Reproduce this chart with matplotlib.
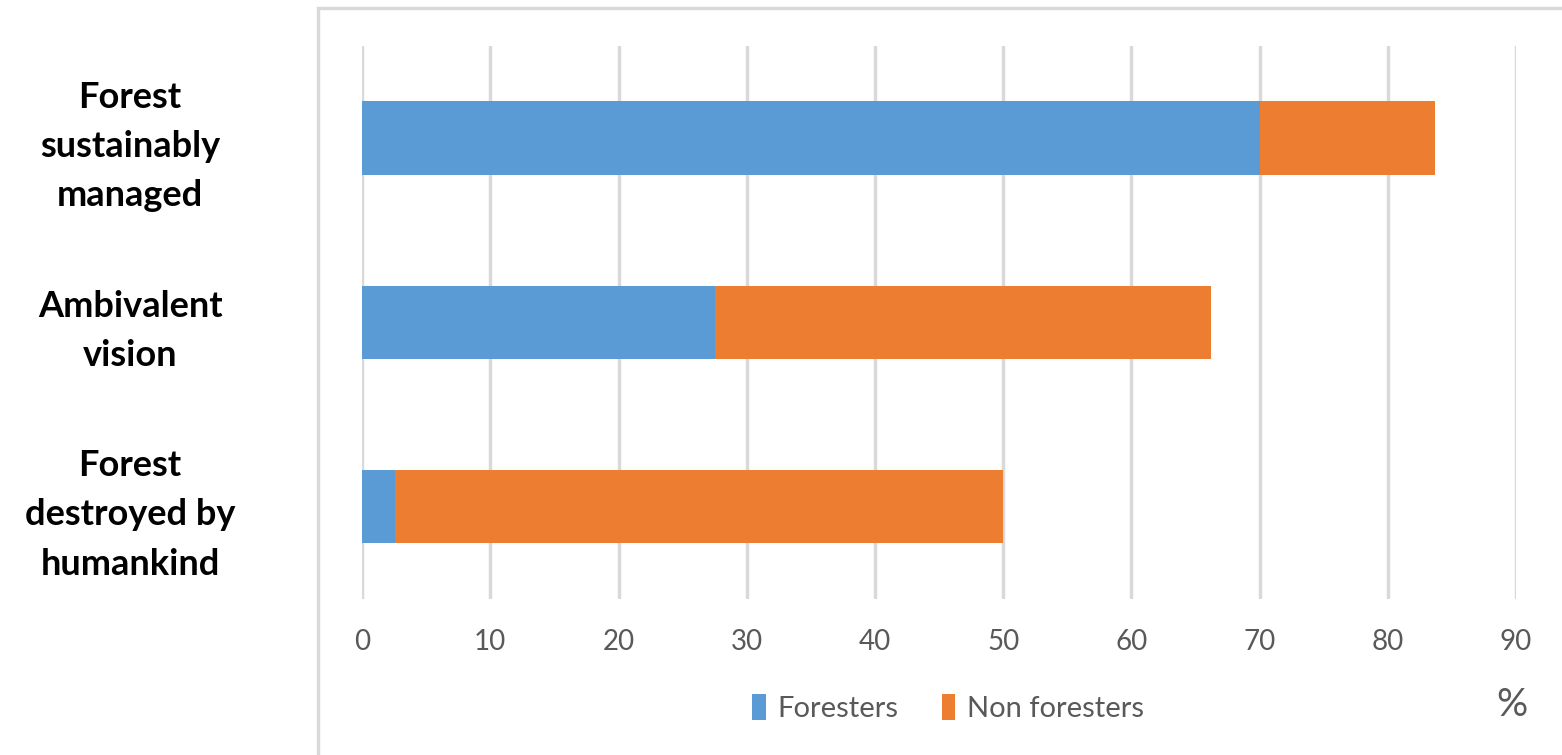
import numpy as np
import matplotlib.pyplot as plt
from matplotlib.patches import Rectangle

## Data
categories = ['Forest\nsustainably\nmanaged', 'Ambivalent\nvision', 'Forest\ndestroyed by\nhumankind']
foresters = [70.0, 27.5, 2.6]
non_foresters = [13.7, 38.7, 47.4]
xticks = [0, 10, 20, 30, 40, 50, 60, 70, 80, 90]

blue = '#5b9bd5'
orange = '#ed7d31'
grid_col = '#d9d9d9'
txt_col = '#595959'

plt.rcParams['font.family'] = ['Lato', 'DejaVu Sans']

fig = plt.figure(figsize=(15.62, 7.55), dpi=100)
ax = fig.add_axes([0.2318, 0.207, 0.7388, 0.732])

y = np.arange(len(categories))
ax.barh(y, foresters, height=0.4, color=blue, label='Foresters', zorder=3)
ax.barh(y, non_foresters, left=foresters, height=0.4, color=orange, label='Non foresters', zorder=3)

ax.set_xlim(0, 90)
ax.set_ylim(2.5, -0.5)
ax.set_xticks(xticks)
ax.xaxis.grid(True, color=grid_col, linewidth=2.5, zorder=0)
ax.tick_params(axis='x', length=0, pad=22, labelsize=20, labelcolor=txt_col)
ax.set_yticks([])
for s in ax.spines.values():
    s.set_visible(False)

# category labels (bold, centred, sit a bit below the bar centre)
for i, c in enumerate(categories):
    ax.text(-0.201, i + 0.045, c, transform=ax.get_yaxis_transform(), ha='center', va='center',
            fontsize=26, fontweight='bold', linespacing=1.6, clip_on=False)

# outer frame
fig.patches.append(Rectangle((318 / 1562, -0.1), 2, 1.1 - 8 / 755, transform=fig.transFigure,
                             fill=False, edgecolor=grid_col, linewidth=2.5))

leg = fig.legend(loc='center', bbox_to_anchor=(0.607, 0.062), ncol=2, frameon=False,
                 fontsize=21, handlelength=0.45, handleheight=1.0, handletextpad=0.4,
                 columnspacing=1.5)
for t in leg.get_texts():
    t.set_color(txt_col)

fig.text(0.968, 0.066, '%', fontsize=28, color=txt_col, ha='center', va='center')

fig.savefig('out.png', dpi=100)
